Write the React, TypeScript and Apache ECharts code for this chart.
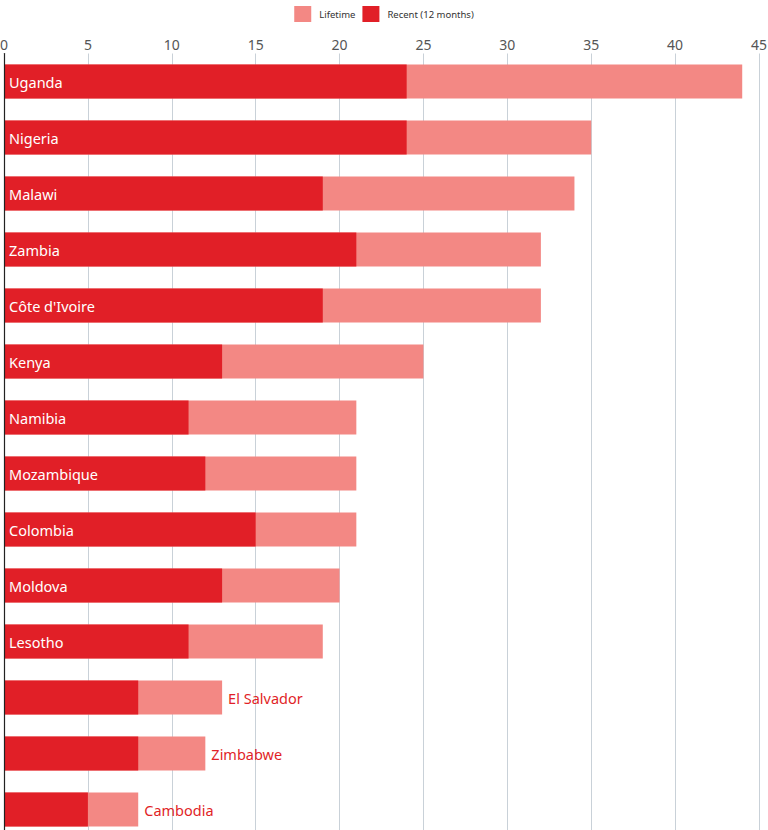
import React, { useEffect, useRef } from "react";
import * as echarts from "echarts";

const categories = [
  "Uganda", "Nigeria", "Malawi", "Zambia", "Côte d'Ivoire", "Kenya", "Namibia",
  "Mozambique", "Colombia", "Moldova", "Lesotho", "El Salvador", "Zimbabwe", "Cambodia",
];
const lifetime = [44, 35, 34, 32, 32, 25, 21, 21, 21, 20, 19, 13, 12, 8];
const recent = [24, 24, 19, 21, 19, 13, 11, 12, 15, 13, 11, 8, 8, 5];
// categories whose label sits outside the bar
const outsideLabel = ["El Salvador", "Zimbabwe", "Cambodia"];

const RED = "#e11f27";
const PINK = "#f38884";
const FONT = "Noto Sans";

export default function App() {
  const ref = useRef<HTMLDivElement>(null);
  useEffect(() => {
    if (!ref.current) return;
    const chart = echarts.init(ref.current, undefined, { renderer: "svg" });
    const lifeData = lifetime.map((v, i) => ({
      value: v,
      label: outsideLabel.includes(categories[i])
        ? { show: true, position: "right", distance: 6, color: RED, formatter: categories[i] }
        : { show: false },
    }));
    const recentData = recent.map((v, i) => ({
      value: v,
      label: outsideLabel.includes(categories[i])
        ? { show: false }
        : { show: true, position: "insideLeft", distance: 5, color: "#ffffff", formatter: categories[i] },
    }));
    chart.setOption({
      animation: false,
      textStyle: { fontFamily: FONT },
      legend: {
        top: 1,
        left: "center",
        itemWidth: 17,
        itemHeight: 16,
        itemGap: 7,
        icon: "rect",
        textStyle: { fontSize: 9.5, color: "#333", fontFamily: FONT, padding: [0, 0, 0, 3] },
        data: ["Lifetime", "Recent (12 months)"],
      },
      grid: {
        left: 4,
        right: 9,
        top: 53.5,
        height: 784,
        containLabel: false,
        outerBoundsMode: "none",
      },
      xAxis: {
        type: "value",
        position: "top",
        min: 0,
        max: 45,
        interval: 5,
        axisLine: { show: false },
        axisTick: { show: false },
        axisLabel: { color: "#555", fontSize: 14, margin: 2, fontFamily: FONT },
        splitLine: { show: true, lineStyle: { color: "#c9d1d8", width: 1 } },
      },
      yAxis: {
        type: "category",
        data: categories,
        inverse: true,
        axisLabel: { show: false },
        axisTick: { show: false },
        axisLine: { show: true, lineStyle: { color: "#222", width: 1.2 } },
        z: 10,
      },
      series: [
        {
          name: "Lifetime",
          type: "bar",
          data: lifeData,
          barWidth: 34,
          barGap: "-100%",
          itemStyle: { color: PINK },
          label: { fontSize: 14.5, fontFamily: FONT },
          z: 2,
        },
        {
          name: "Recent (12 months)",
          type: "bar",
          data: recentData,
          barWidth: 34,
          barGap: "-100%",
          itemStyle: { color: RED },
          label: { fontSize: 14.5, fontFamily: FONT },
          z: 3,
        },
      ],
    });
    return () => chart.dispose();
  }, []);
  return (
    <div
      ref={ref}
      style={{ position: "absolute", left: 0, top: 0, width: 768, height: 830, overflow: "hidden" }}
    />
  );
}
